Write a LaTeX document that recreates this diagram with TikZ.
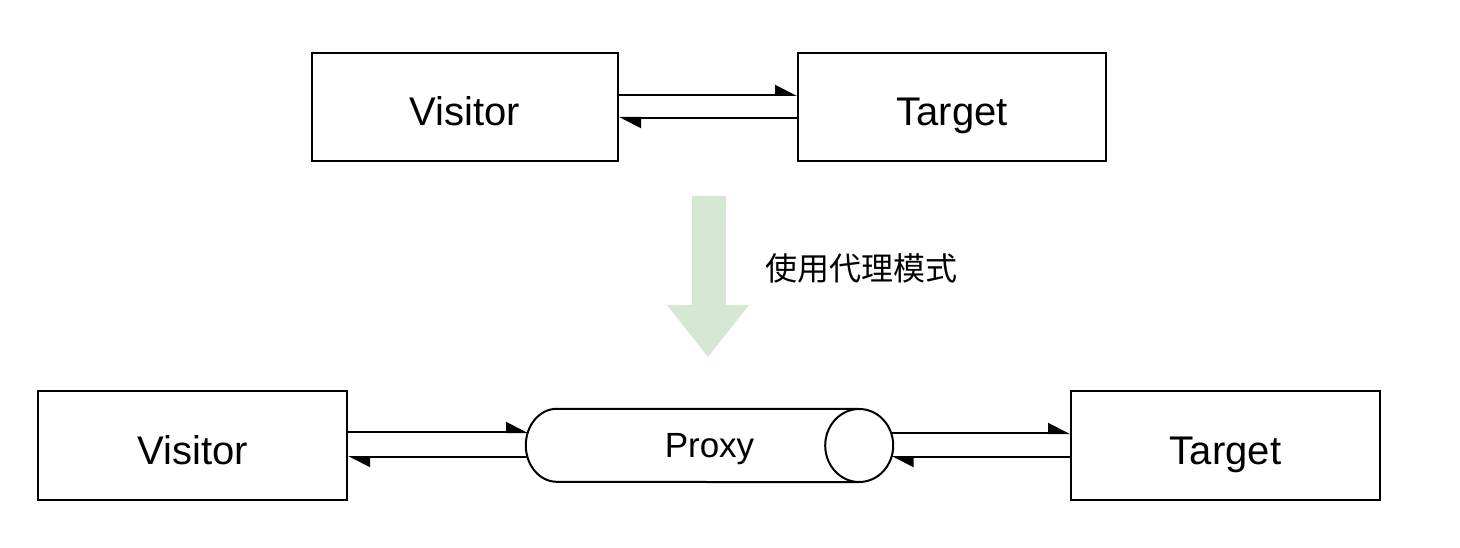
\documentclass[tikz,border=0pt]{standalone}
\usepackage{fontspec}
\setmainfont{Liberation Sans}
\newfontfamily\cjk{Noto Sans CJK SC}
\usetikzlibrary{arrows.meta}
\definecolor{arrowgreen}{HTML}{D5E8D4}
\begin{document}
\begin{tikzpicture}[x=1pt,y=-1pt,
  box/.style={draw=black, line width=2pt, fill=white, inner sep=0pt, text height=37.5pt, text depth=0pt,
    font=\fontsize{40}{48}\selectfont},
  conn/.style={draw=black, line width=2pt, -{Triangle[harpoon, length=20pt, width=20pt]}},
  outline/.style={draw=black, line width=2pt}]
\useasboundingbox (0,0) rectangle (1460,548);

% top row
\node[box, minimum width=306pt, minimum height=108pt] (v1) at (465,107) {Visitor};
\node[box, minimum width=308pt, minimum height=108pt] (t1) at (952,107) {Target};
\draw[conn] ([yshift=12pt]v1.east) -- ([yshift=12pt]t1.west);
\draw[conn] ([yshift=-11pt]t1.west) -- ([yshift=-11pt]v1.east);

% green arrow
\fill[arrowgreen] (692,196) -- (726,196) -- (726,305) -- (749,305) -- (708,357) -- (667,305) -- (692,305) -- cycle;
\node[font=\cjk\fontsize{32}{38}\selectfont, anchor=west, inner sep=0pt] (lbl) at (765,268) {使用代理模式};

% bottom row
\node[box, minimum width=309pt, minimum height=109pt] (v2) at (192.5,445.5) {Visitor};
\node[box, minimum width=309pt, minimum height=109pt] (t2) at (1225.5,445.5) {Target};
\node[minimum width=367pt, minimum height=73pt, inner sep=0pt, text depth=0pt,
  font=\fontsize{35}{42}\selectfont] (proxy) at (709.5,445.5) {Proxy};
\draw[outline] ([xshift=-34pt]proxy.north east) -- ([xshift=31pt]proxy.north west)
  arc[start angle=90, end angle=270, x radius=31pt, y radius=36.5pt]
  -- ([xshift=-34pt]proxy.south east);
\draw[outline] ([xshift=-34pt]proxy.east) ellipse [x radius=34pt, y radius=36.5pt];

\draw[conn] ([yshift=13.5pt]v2.east) -- ([xshift=2.2pt,yshift=13.5pt]proxy.west);
\draw[conn] ([xshift=1.6pt,yshift=-11.5pt]proxy.west) -- ([yshift=-11.5pt]v2.east);
\draw[conn] ([xshift=-2.1pt,yshift=12.5pt]proxy.east) -- ([yshift=12.5pt]t2.west);
\draw[conn] ([yshift=-11.5pt]t2.west) -- ([xshift=-1.7pt,yshift=-11.5pt]proxy.east);
\end{tikzpicture}
\end{document}
